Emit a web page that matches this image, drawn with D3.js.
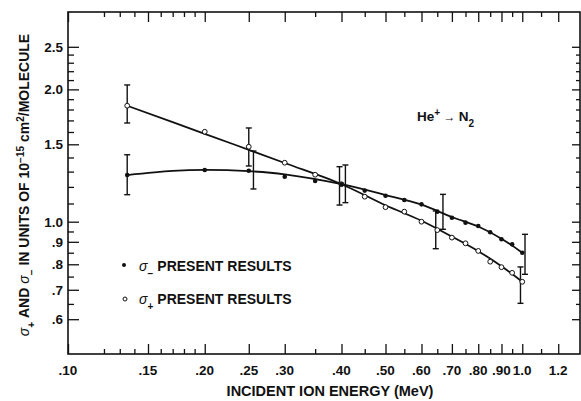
<!DOCTYPE html>
<html><head><meta charset="utf-8">
<script src="https://cdn.jsdelivr.net/npm/d3@7"></script>
<style>
body{margin:0;background:#fff;}
svg{display:block;}
text{font-family:"Liberation Sans",Arial,sans-serif;font-weight:bold;fill:#111;}
</style></head>
<body><svg id="c" width="581" height="401"></svg>
<script>
// ---- data ----
const energy = [0.135,0.20,0.25,0.30,0.35,0.40,0.45,0.50,0.55,0.60,0.65,0.70,0.75,0.80,0.85,0.90,0.95,1.0];
const sigmaMinus = [1.277,1.311,1.306,1.266,1.238,1.217,1.177,1.146,1.120,1.095,1.054,1.021,0.995,0.978,0.946,0.912,0.888,0.850];
const sigmaPlus  = [1.836,1.602,1.481,1.362,1.279,1.217,1.140,1.079,1.054,1.000,0.957,0.920,0.893,0.858,0.811,0.788,0.765,0.730];

const minusErrE  = [0.135,0.256,0.408,0.669,1.014];
const minusErrLo = [1.152,1.187,1.105,0.961,0.759];
const minusErrHi = [1.420,1.448,1.346,1.154,0.936];
const plusErrE   = [0.135,0.25,0.396,0.645,0.991];
const plusErrLo  = [1.677,1.339,1.091,0.868,0.652];
const plusErrHi  = [2.047,1.634,1.334,1.058,0.789];

const plusFitE  = [0.135,0.20,0.30,0.40,0.50,0.60,0.70,0.80,0.90,1.0];
const plusFit   = [1.836,1.585,1.360,1.217,1.090,1.005,0.925,0.857,0.792,0.730];
const minusFitE = [0.135,0.17,0.20,0.25,0.30,0.40,0.50,0.60,0.70,0.80,0.90,1.0];
const minusFit  = [1.277,1.305,1.312,1.303,1.281,1.217,1.150,1.093,1.025,0.975,0.915,0.850];

const xMajor = [0.10,0.15,0.20,0.25,0.30,0.40,0.50,0.60,0.70,0.80,0.90,1.0,1.2];
const xMajorLabels = [".10",".15",".20",".25",".30",".40",".50",".60",".70",".80",".90","1.0","1.2"];
const xMinor = [0.12,0.13,0.14,0.16,0.17,0.18,0.19,0.35,0.45,0.55,0.65,0.75,0.85,0.95,1.1];
const yMajor = [2.5,2.0,1.5,1.0,0.9,0.8,0.7,0.6];
const yMajorLabels = ["2.5","2.0","1.5","1.0",".9",".8",".7",".6"];
const yMinor = [2.4,2.3,2.2,2.1,1.9,1.8,1.7,1.6,1.4,1.3,1.2,1.1,0.95,0.85,0.75,0.65];

// ---- layout ----
const L=68, R=580, T=12, B=354;
const svg = d3.select("#c");
const x = d3.scaleLog().domain([0.10,1.34]).range([L,R]);
const y = d3.scaleLog().domain([0.5,3.0]).range([B,T]);

// frame
svg.append("rect").attr("x",L).attr("y",T).attr("width",R-L).attr("height",B-T)
  .attr("fill","none").attr("stroke","#111").attr("stroke-width",1.6);

function axisGroup(axisFn, scale, vals, size, transform){
  const g = svg.append("g").attr("transform",transform)
    .call(axisFn(scale).tickValues(vals).tickSize(size).tickFormat(""));
  g.select(".domain").remove();
  g.selectAll(".tick line").attr("stroke","#111").attr("stroke-width",1.3);
  return g;
}
axisGroup(d3.axisBottom, x, xMajor, -10, `translate(0,${B})`);
axisGroup(d3.axisBottom, x, xMinor, -5, `translate(0,${B})`);
axisGroup(d3.axisTop, x, xMajor, -10, `translate(0,${T})`);
axisGroup(d3.axisTop, x, xMinor, -5, `translate(0,${T})`);
axisGroup(d3.axisLeft, y, yMajor, -11, `translate(${L},0)`);
axisGroup(d3.axisLeft, y, yMinor, -6, `translate(${L},0)`);
axisGroup(d3.axisRight, y, yMajor, -8, `translate(${R},0)`);
axisGroup(d3.axisRight, y, yMinor, -4, `translate(${R},0)`);

// tick labels
svg.append("g").selectAll("text").data(xMajor).join("text")
  .attr("x",d=>x(d)).attr("y",375).attr("text-anchor","middle")
  .attr("font-size",13.5).text((d,i)=>xMajorLabels[i]);
svg.append("g").selectAll("text").data(yMajor).join("text")
  .attr("x",63).attr("y",d=>y(d)+5).attr("text-anchor","end")
  .attr("font-size",13.5).text((d,i)=>yMajorLabels[i]);

// axis titles
svg.append("text").attr("x",330).attr("y",396).attr("text-anchor","middle")
  .attr("font-size",14.5).text("INCIDENT ION ENERGY (MeV)");
const yl = svg.append("text").attr("transform","translate(29,185) rotate(-90)")
  .attr("text-anchor","middle").attr("font-size",14);
yl.append("tspan").attr("font-style","italic").attr("font-weight","normal").text("σ");
yl.append("tspan").attr("baseline-shift","sub").attr("font-size",10).text("+");
yl.append("tspan").text(" AND ");
yl.append("tspan").attr("font-style","italic").attr("font-weight","normal").text("σ");
yl.append("tspan").attr("baseline-shift","sub").attr("font-size",10).text("−");
yl.append("tspan").text(" IN UNITS OF 10");
yl.append("tspan").attr("baseline-shift","super").attr("font-size",10).text("−15");
yl.append("tspan").text(" cm");
yl.append("tspan").attr("baseline-shift","super").attr("font-size",10).text("2");
yl.append("tspan").text("/MOLECULE");

// title
const tt = svg.append("text").attr("x",417).attr("y",121).attr("font-size",13.5);
tt.append("tspan").text("He");
tt.append("tspan").attr("baseline-shift","super").attr("font-size",10).text("+");
tt.append("tspan").attr("font-size",12).attr("font-weight","normal").text(" → ");
tt.append("tspan").text("N");
tt.append("tspan").attr("baseline-shift","sub").attr("font-size",10).text("2");

// fitted curves
const line = d3.line().x(d=>x(d[0])).y(d=>y(d[1])).curve(d3.curveCatmullRom);
svg.append("path").attr("d",line(plusFitE.map((e,i)=>[e,plusFit[i]])))
  .attr("fill","none").attr("stroke","#111").attr("stroke-width",1.8);
svg.append("path").attr("d",line(minusFitE.map((e,i)=>[e,minusFit[i]])))
  .attr("fill","none").attr("stroke","#111").attr("stroke-width",1.8);

// error bars
function errBars(E,Lo,Hi){
  const g = svg.append("g").attr("stroke","#111").attr("stroke-width",1.4);
  E.forEach((e,i)=>{
    const cx=x(e), y1=y(Lo[i]), y2=y(Hi[i]);
    g.append("line").attr("x1",cx).attr("x2",cx).attr("y1",y1).attr("y2",y2);
    g.append("line").attr("x1",cx-3).attr("x2",cx+3).attr("y1",y1).attr("y2",y1);
    g.append("line").attr("x1",cx-3).attr("x2",cx+3).attr("y1",y2).attr("y2",y2);
  });
}
errBars(minusErrE,minusErrLo,minusErrHi);
errBars(plusErrE,plusErrLo,plusErrHi);

// points
svg.append("g").selectAll("circle").data(energy).join("circle")
  .attr("cx",d=>x(d)).attr("cy",(d,i)=>y(sigmaPlus[i])).attr("r",2.4)
  .attr("fill","#fff").attr("stroke","#111").attr("stroke-width",1);
svg.append("g").selectAll("circle").data(energy).join("circle")
  .attr("cx",d=>x(d)).attr("cy",(d,i)=>y(sigmaMinus[i])).attr("r",2.3)
  .attr("fill","#111");

// legend
svg.append("circle").attr("cx",124).attr("cy",265).attr("r",2).attr("fill","#111");
const l1 = svg.append("text").attr("x",139).attr("y",271).attr("font-size",14);
l1.append("tspan").attr("font-style","italic").attr("font-weight","normal").text("σ");
l1.append("tspan").attr("baseline-shift","sub").attr("font-size",10).text("−");
l1.append("tspan").attr("dx",4).text("PRESENT RESULTS");
svg.append("circle").attr("cx",125).attr("cy",299).attr("r",2).attr("fill","#fff").attr("stroke","#111").attr("stroke-width",1);
const l2 = svg.append("text").attr("x",139).attr("y",304).attr("font-size",14);
l2.append("tspan").attr("font-style","italic").attr("font-weight","normal").text("σ");
l2.append("tspan").attr("baseline-shift","sub").attr("font-size",10).text("+");
l2.append("tspan").attr("dx",4).text("PRESENT RESULTS");
</script></body></html>
